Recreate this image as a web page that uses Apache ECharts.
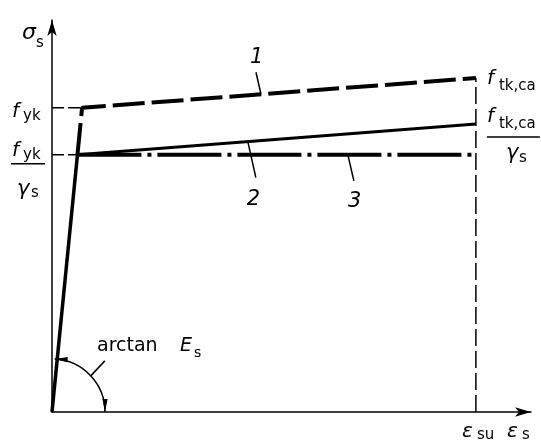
<!DOCTYPE html>
<html>
<head>
<meta charset="utf-8">
<style>
  html, body { margin: 0; padding: 0; background: #fff; }
  #chart { width: 541px; height: 443px; }
</style>
<script src="https://cdn.jsdelivr.net/npm/echarts@6/dist/echarts.min.js"></script>
</head>
<body>
<div id="chart"></div>
<script>
// strain (x) and stress (y) values, arbitrary units
var epsSu = 10;      // ultimate strain
var epsYk = 0.71;    // strain at f_yk
var epsYd = 0.6;     // strain at f_yk / gamma_s
var fyk = 77.6;
var fyd = 65.6;
var ftk = 85.2;
var ftd = 73.5;

var elastic = [[0, 0], [epsYd, fyd]];
var line1 = [[epsYd, fyd], [epsYk, fyk], [epsSu, ftk]];
var line2 = [[epsYd, fyd], [epsSu, ftd]];
var line3 = [[epsYd, fyd], [epsSu, fyd]];
var refFyk = [[0, fyk], [epsYk, fyk]];
var refFyd = [[0, fyd], [epsYd, fyd]];
var refSu = [[epsSu, 0], [epsSu, ftk]];

var FONT = 'DejaVu Sans';
var chart = echarts.init(document.getElementById('chart'));

function ln(data, width, dash){
    return {
        type: 'line', data: data, symbol: 'none', silent: true,
        lineStyle: { color: '#000', width: width, type: dash || 'solid', cap: 'butt' }
    };
}

chart.setOption({
    animation: false,
    grid: { left: 52, right: 10, top: 20, bottom: 31 },
    xAxis: {
        type: 'value', min: 0, max: 11.3,
        axisLine: { show: true, onZero: false, symbol: ['none', 'arrow'], symbolSize: [7, 16],
            lineStyle: { color: '#000', width: 1.5 } },
        axisTick: { show: false }, axisLabel: { show: false }, splitLine: { show: false }
    },
    yAxis: {
        type: 'value', min: 0, max: 100,
        axisLine: { show: true, onZero: false, symbol: ['none', 'arrow'], symbolSize: [7, 16],
            lineStyle: { color: '#000', width: 1.5 } },
        axisTick: { show: false }, axisLabel: { show: false }, splitLine: { show: false }
    },
    series: [
        ln(refFyk, 1.5, [12, 4]),
        ln(refFyd, 1.5, [12, 4]),
        ln(refSu, 1.5, [17, 5]),
        ln(elastic, 3.5),
        ln(line1, 4, [32, 7]),
        ln(line2, 3),
        ln(line3, 4, [64, 6, 4, 6])
    ]
});

function px(x, y){ return chart.convertToPixel({ gridIndex: 0 }, [x, y]); }

// text placed by its baseline (approx, 'middle' sits ~0.3em above baseline)
function T(str, x, base, size, italic){
    return {
        type: 'text', silent: true,
        style: {
            text: str, x: x, y: base - size * 0.3, fill: '#000',
            font: (italic ? 'italic ' : '') + size + 'px ' + FONT,
            align: 'left', verticalAlign: 'middle'
        }
    };
}
function L(x1, y1, x2, y2, w){
    return { type: 'line', silent: true, shape: { x1: x1, y1: y1, x2: x2, y2: y2 },
        style: { stroke: '#000', lineWidth: w || 1.5 } };
}

var O = px(0, 0), Top = px(0, 100), A = px(0, fyk), B = px(0, fyd);
var R1 = px(epsSu, ftk), R2 = px(epsSu, ftd), S = px(epsSu, 0);
var g = [];

// axis names
g.push(T('σ', Top[0] - 30, Top[1] + 20, 22, true), T('s', Top[0] - 16, Top[1] + 28, 15));
g.push(T('ε', S[0] - 14, S[1] + 26, 20, true), T('su', S[0] + 1, S[1] + 28, 15));
g.push(T('ε', S[0] + 31, S[1] + 26, 20, true), T('s', S[0] + 46, S[1] + 28, 15));

// left labels
g.push(T('f', A[0] - 40, A[1] + 10, 20, true), T('yk', A[0] - 29, A[1] + 13, 15));
g.push(T('f', B[0] - 40, B[1] + 2, 20, true), T('yk', B[0] - 29, B[1] + 5, 15));
g.push(L(B[0] - 41, B[1] + 9, B[0] - 7, B[1] + 9));
g.push(T('γ', B[0] - 35, B[1] + 41, 21, true), T('s', B[0] - 21, B[1] + 43, 15));

// right labels
g.push(T('f', R1[0] + 11, R1[1] + 7, 20, true), T('tk,ca', R1[0] + 23, R1[1] + 13, 15));
g.push(T('f', R2[0] + 11, R2[1] - 1, 20, true), T('tk,ca', R2[0] + 23, R2[1] + 5, 15));
g.push(L(R2[0] + 11, R2[1] + 13, R2[0] + 64, R2[1] + 13));
g.push(T('γ', R2[0] + 30, R2[1] + 36, 21, true), T('s', R2[0] + 43, R2[1] + 39, 15));

// curve numbers with leaders
var p1 = px(4.93, fyk + (ftk - fyk) * (4.93 - epsYk) / (epsSu - epsYk));
g.push(L(p1[0] - 5, p1[1] - 22, p1[0], p1[1]), T('1', p1[0] - 11, p1[1] - 30, 21, true));
var p2 = px(4.62, fyd + (ftd - fyd) * (4.62 - epsYd) / (epsSu - epsYd));
g.push(L(p2[0], p2[1], p2[0] + 8, p2[1] + 36), T('2', p2[0] - 1, p2[1] + 64, 21, true));
var p3 = px(6.98, fyd);
g.push(L(p3[0], p3[1], p3[0] + 6, p3[1] + 26), T('3', p3[0], p3[1] + 53, 21, true));

// arctan E_s angle mark
var r = 53, a0 = Math.atan2(B[1] - O[1], B[0] - O[0]) + 0.05, a1 = 0;
g.push({ type: 'arc', silent: true,
    shape: { cx: O[0], cy: O[1], r: r, startAngle: a0, endAngle: a1, clockwise: true },
    style: { stroke: '#000', lineWidth: 1.5, fill: 'none' } });
function head(ang, dir){
    // arrowhead at arc angle ang, pointing along the tangent (+1 cw, -1 ccw)
    var tx = O[0] + r * Math.cos(ang), ty = O[1] + r * Math.sin(ang);
    var ux = -Math.sin(ang) * dir, uy = Math.cos(ang) * dir;
    var len = 13, w = 2.6;
    var bx = tx - ux * len, by = ty - uy * len;
    return { type: 'polygon', silent: true,
        shape: { points: [[tx, ty], [bx - uy * w, by + ux * w], [bx + uy * w, by - ux * w]] },
        style: { fill: '#000' } };
}
g.push(head(a0, -1), head(a1, 1));
var am = -0.75;
var m = [O[0] + r * Math.cos(am), O[1] + r * Math.sin(am)];
g.push(L(m[0], m[1], m[0] + 14, m[1] - 15));
g.push(T('arctan', O[0] + 45, O[1] - 60, 19), T('E', O[0] + 128, O[1] - 60, 19, true),
    T('s', O[0] + 142, O[1] - 54, 14));

chart.setOption({ graphic: g });
</script>
</body>
</html>
